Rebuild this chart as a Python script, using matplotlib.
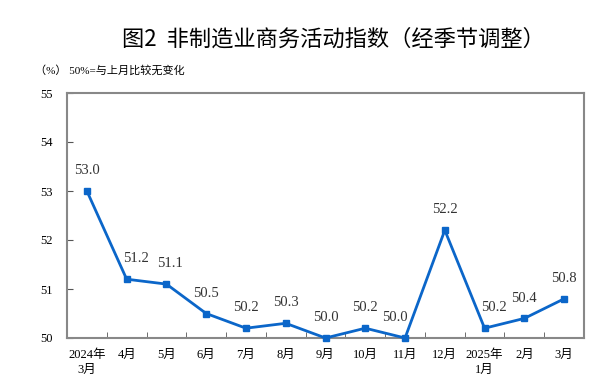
import matplotlib.pyplot as plt
import numpy as np

months = ["2024年\n3月", "4月", "5月", "6月", "7月", "8月", "9月", "10月",
          "11月", "12月", "2025年\n1月", "2月", "3月"]
values = [53.0, 51.2, 51.1, 50.5, 50.2, 50.3, 50.0, 50.2, 50.0, 52.2, 50.2, 50.4, 50.8]

# horizontal nudges for value labels (pixels), so they clear the line
label_dx = [0, 9, 4, 0, 0, 0, 0, 0, -10, 0, 9, 0, 0]

serif = ["Liberation Serif", "Noto Sans CJK SC"]
blue = "#0b66c9"

fig = plt.figure(figsize=(6, 3.88), dpi=100)
ax = fig.add_axes([67 / 600, 1 - 338 / 388, 517 / 600, 245 / 388])

x = np.arange(len(months))
ax.plot(x, values, color=blue, lw=2, marker="s", ms=4.5, clip_on=False, zorder=3)
for xi, v, dx in zip(x, values, label_dx):
    ax.annotate(f"{v:.1f}", (xi, v), xytext=(dx * 0.72, 10), textcoords="offset points",
                ha="center", va="bottom", fontsize=10.5, family=serif, color="#333333")

ax.set_xlim(-0.5, len(months) - 0.5)
ax.set_ylim(50, 55)
ax.set_yticks(range(50, 56))
ax.set_xticks(x)
ax.set_xticklabels(months, family=serif, fontsize=9, linespacing=1.3)
ax.set_xticks(np.arange(0.5, len(months) - 1, 1), minor=True)
ax.tick_params(axis="x", which="major", length=0, pad=8)
ax.tick_params(axis="x", which="minor", direction="in", length=4, color="#555555")
ax.tick_params(axis="y", direction="in", length=4, color="#555555", labelsize=9, pad=10)
for lab in ax.get_yticklabels():
    lab.set_family(serif)
for s in ax.spines.values():
    s.set_color("#888888")
    s.set_linewidth(1.5)

fig.text(0.555, 0.9, "图2  非制造业商务活动指数（经季节调整）", ha="center", va="center",
         fontsize=16, family=["Noto Sans CJK SC"], fontweight="medium")
fig.text(35 / 600, 1 - 70 / 388, "（%） 50%=与上月比较无变化", ha="left", va="center",
         fontsize=8, family=serif)

fig.savefig("out.png", dpi=100)
